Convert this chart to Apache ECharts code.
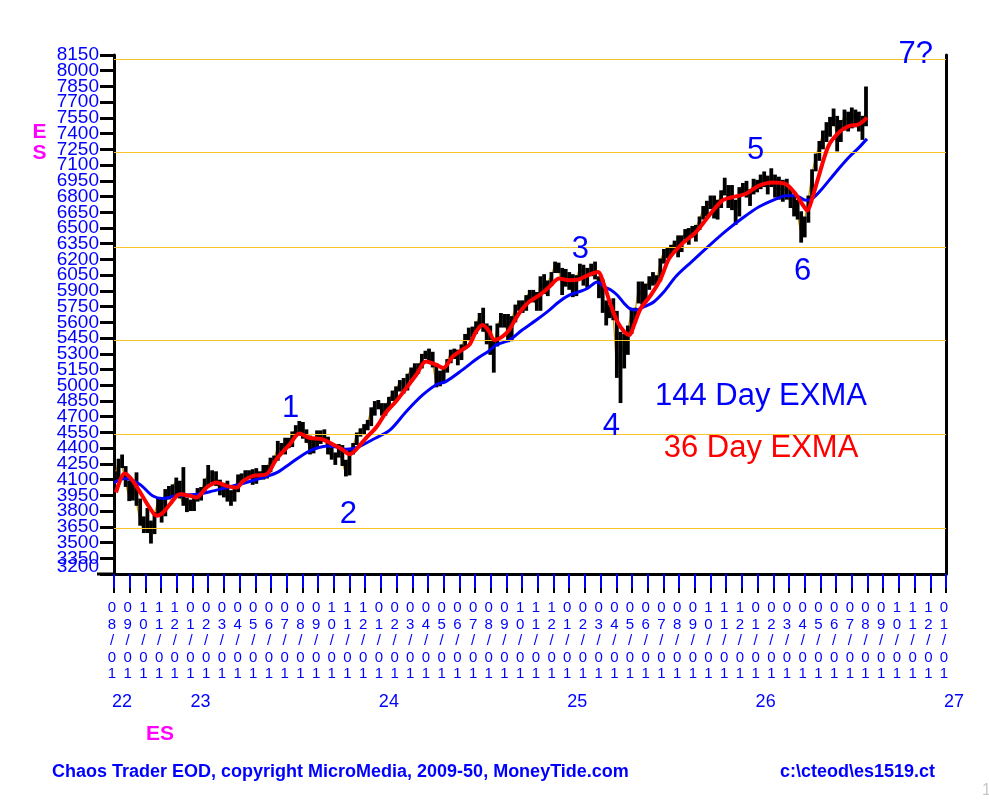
<!DOCTYPE html>
<html lang="en">
<head>
    <meta charset="UTF-8">
    <title>ES Chaos Trader EOD</title>
    <style>
        html, body { margin: 0; padding: 0; background: #fff; }
        #main { width: 989px; height: 805px; }
    </style>
    <script src="https://cdn.jsdelivr.net/npm/echarts/dist/echarts.min.js"></script>
</head>
<body>
<div id="main"></div>
<script>
    // weekly bars, first bar is the week of 2022-08-01 (plotted mid-week)
    const firstWeek = '2022-08-03'
    const weekHigh = [
        4170, 4290, 4330, 4220, 4080, 4075, 4160, 3910, 3740, 3820, 3700, 3780, 3920, 3920, 4000, 4030, 4045, 4110, 4080, 4210,
        3920, 3900, 3930, 4010, 4020, 4100, 4230, 4180, 4170, 4090, 4060, 4080, 3990, 4020, 4140, 4150, 4180, 4180, 4190, 4200,
        4170, 4230, 4230, 4300, 4320, 4460, 4440, 4490, 4490, 4550, 4610, 4650, 4640, 4570, 4510, 4470, 4560, 4560, 4570, 4500,
        4400, 4350, 4430, 4420, 4280, 4380, 4440, 4540, 4580, 4620, 4660, 4780, 4840, 4850, 4820, 4820, 4880, 4940, 4980, 5040,
        5060, 5100, 5160, 5200, 5200, 5290, 5320, 5340, 5310, 5200, 5130, 5150, 5240, 5330, 5340, 5330, 5380, 5480, 5540, 5550,
        5600, 5680, 5730, 5580, 5560, 5420, 5580, 5680, 5670, 5670, 5650, 5760, 5800, 5800, 5850, 5900, 5900, 5880, 6030, 6050,
        5990, 6070, 6170, 6160, 6110, 6100, 6070, 6050, 6040, 6150, 6140, 6110, 6150, 6170, 6030, 6000, 5800, 5760, 5820, 5700,
        5500, 5480, 5560, 5720, 5730, 5980, 5980, 5960, 6030, 6070, 6040, 6200, 6290, 6300, 6330, 6370, 6420, 6420, 6480, 6490,
        6510, 6520, 6600, 6700, 6750, 6800, 6800, 6760, 6850, 6970, 6900, 6900, 6760, 6880, 6920, 6940, 6860, 6960, 6950, 7000,
        7030, 6990, 7060, 7000, 6980, 6950, 6960, 6870, 6800, 6760, 6650, 6600, 6800, 7050, 7200, 7320, 7420, 7500, 7550, 7630,
        7560, 7520, 7620, 7600, 7640, 7620, 7600, 7560, 7840
    ]
    const weekLow = [
        4080, 4110, 4220, 4040, 3905, 3910, 3860, 3670, 3600, 3600, 3500, 3590, 3760, 3700, 3760, 3920, 3955, 3950, 3930, 3860,
        3800, 3810, 3810, 3900, 3910, 3980, 4060, 4080, 4050, 3960, 3940, 3900, 3860, 3900, 3990, 4080, 4090, 4120, 4060, 4070,
        4110, 4110, 4120, 4180, 4260, 4290, 4360, 4350, 4410, 4420, 4520, 4530, 4500, 4460, 4350, 4360, 4420, 4450, 4470, 4350,
        4300, 4250, 4320, 4240, 4140, 4150, 4350, 4440, 4520, 4540, 4580, 4620, 4720, 4780, 4720, 4720, 4780, 4860, 4850, 4950,
        4930, 4960, 5060, 5100, 5120, 5170, 5260, 5220, 5180, 4990, 5000, 5030, 5130, 5220, 5260, 5200, 5250, 5360, 5440, 5470,
        5500, 5560, 5520, 5400, 5300, 5130, 5380, 5560, 5560, 5420, 5430, 5610, 5720, 5700, 5720, 5820, 5800, 5720, 5720, 5880,
        5860, 5960, 6080, 6080, 5870, 5950, 5920, 5850, 5860, 6030, 5960, 5940, 6050, 6020, 5840, 5700, 5580, 5650, 5630, 5080,
        4840, 5170, 5300, 5500, 5610, 5790, 5780, 5800, 5920, 5960, 5970, 6000, 6170, 6220, 6240, 6300, 6230, 6280, 6400, 6350,
        6420, 6380, 6490, 6590, 6620, 6690, 6600, 6590, 6700, 6820, 6700, 6680, 6540, 6620, 6820, 6800, 6720, 6830, 6850, 6880,
        6900, 6830, 6900, 6800, 6780, 6760, 6780, 6700, 6620, 6590, 6370, 6420, 6560, 6780, 7050, 7150, 7260, 7330, 7380, 7480,
        7240, 7330, 7440, 7430, 7460, 7470, 7430, 7350, 7480
    ]
    const weekClose = [
        4140, 4280, 4230, 4060, 3925, 4070, 3875, 3700, 3600, 3650, 3600, 3770, 3910, 3780, 3995, 3975, 4040, 4080, 3940, 3870,
        3870, 3860, 3910, 4000, 3990, 4090, 4150, 4100, 4090, 3980, 4050, 3900, 3950, 4000, 4130, 4130, 4160, 4150, 4180, 4150,
        4140, 4210, 4220, 4290, 4300, 4420, 4380, 4480, 4430, 4540, 4580, 4610, 4520, 4490, 4390, 4420, 4540, 4480, 4490, 4360,
        4320, 4330, 4370, 4250, 4150, 4370, 4430, 4530, 4570, 4610, 4650, 4770, 4800, 4820, 4730, 4800, 4870, 4920, 4970, 5030,
        5010, 5100, 5150, 5160, 5170, 5280, 5310, 5260, 5200, 5000, 5110, 5140, 5230, 5320, 5300, 5280, 5370, 5460, 5500, 5500,
        5590, 5660, 5530, 5480, 5360, 5370, 5570, 5650, 5660, 5430, 5640, 5730, 5780, 5780, 5840, 5890, 5840, 5740, 6010, 5900,
        5980, 6060, 6150, 6090, 5960, 6040, 5980, 5860, 6030, 6120, 6050, 6050, 6140, 6030, 5980, 5780, 5660, 5690, 5650, 5100,
        5400, 5300, 5540, 5700, 5690, 5960, 5820, 5930, 6010, 5990, 5990, 6190, 6280, 6270, 6320, 6360, 6270, 6400, 6460, 6470,
        6490, 6500, 6590, 6680, 6700, 6760, 6620, 6720, 6840, 6880, 6750, 6750, 6620, 6870, 6900, 6850, 6830, 6940, 6880, 6980,
        6960, 6950, 6960, 6900, 6850, 6900, 6820, 6740, 6650, 6620, 6430, 6580, 6780, 7030, 7180, 7300, 7400, 7450, 7520, 7560,
        7350, 7480, 7580, 7500, 7600, 7520, 7480, 7500, 7630
    ]

    // 36 day exponential average (red)
    const ema36 = [
        ['2022-08-05', 3977], ['2022-08-22', 4158], ['2022-09-07', 4088], ['2022-09-27', 3930], ['2022-10-09', 3835],
        ['2022-10-23', 3756], ['2022-11-05', 3787], ['2022-11-18', 3866], ['2022-12-07', 3961], ['2022-12-27', 3946],
        ['2023-01-09', 3930], ['2023-01-29', 4025], ['2023-02-16', 4072], ['2023-03-06', 4041], ['2023-03-26', 4025],
        ['2023-04-08', 4088], ['2023-04-27', 4136], ['2023-05-23', 4151], ['2023-06-11', 4293], ['2023-07-07', 4436],
        ['2023-07-26', 4540], ['2023-08-15', 4499], ['2023-09-10', 4483], ['2023-09-29', 4436], ['2023-10-18', 4388],
        ['2023-11-01', 4341], ['2023-11-14', 4388], ['2023-12-03', 4499], ['2023-12-23', 4600], ['2024-01-11', 4740],
        ['2024-01-31', 4847], ['2024-02-19', 4974], ['2024-03-09', 5100], ['2024-03-28', 5227], ['2024-04-17', 5195],
        ['2024-04-30', 5164], ['2024-05-19', 5275], ['2024-06-07', 5340], ['2024-06-20', 5385], ['2024-07-03', 5512],
        ['2024-07-16', 5575], ['2024-07-29', 5512], ['2024-08-08', 5432], ['2024-08-24', 5464], ['2024-09-06', 5527],
        ['2024-09-19', 5638], ['2024-10-02', 5733], ['2024-10-15', 5797], ['2024-11-04', 5859], ['2024-11-23', 5939],
        ['2024-12-12', 6018], ['2025-01-01', 6002], ['2025-01-20', 6010], ['2025-02-06', 6049], ['2025-02-24', 6081],
        ['2025-03-08', 5954], ['2025-03-21', 5764], ['2025-04-03', 5607], ['2025-04-16', 5512], ['2025-04-26', 5480],
        ['2025-05-05', 5575], ['2025-05-18', 5733], ['2025-06-07', 5859], ['2025-06-26', 6018], ['2025-07-12', 6207],
        ['2025-08-07', 6350], ['2025-09-03', 6461], ['2025-09-28', 6618], ['2025-10-24', 6761], ['2025-11-12', 6793],
        ['2025-12-08', 6824], ['2026-01-03', 6903], ['2026-01-30', 6935], ['2026-02-23', 6919], ['2026-03-14', 6824],
        ['2026-03-27', 6729], ['2026-04-06', 6666], ['2026-04-15', 6777], ['2026-04-28', 6998], ['2026-05-17', 7283],
        ['2026-06-06', 7410], ['2026-06-25', 7472], ['2026-07-15', 7489], ['2026-07-31', 7552]
    ]

    // 144 day exponential average (blue)
    const ema144 = [
        ['2022-08-01', 4070], ['2022-08-22', 4110], ['2022-09-20', 4056], ['2022-10-15', 3946], ['2022-11-04', 3920],
        ['2022-12-01', 3946], ['2023-01-09', 3961], ['2023-02-04', 3985], ['2023-03-07', 4025], ['2023-04-07', 4063],
        ['2023-05-16', 4120], ['2023-06-12', 4167], ['2023-07-07', 4250], ['2023-08-15', 4373], ['2023-09-23', 4420],
        ['2023-10-26', 4390], ['2023-11-14', 4404], ['2023-12-16', 4483], ['2024-01-18', 4569], ['2024-02-19', 4750],
        ['2024-03-21', 4905], ['2024-04-17', 5005], ['2024-05-06', 5037], ['2024-06-07', 5147], ['2024-07-04', 5250],
        ['2024-07-29', 5330], ['2024-08-12', 5385], ['2024-09-07', 5432], ['2024-10-01', 5527], ['2024-10-29', 5622],
        ['2024-11-23', 5717], ['2024-12-12', 5797], ['2025-01-01', 5859], ['2025-01-20', 5891], ['2025-02-05', 5923],
        ['2025-02-23', 5986], ['2025-03-08', 5939], ['2025-03-22', 5907], ['2025-04-03', 5859], ['2025-04-16', 5780],
        ['2025-04-26', 5733], ['2025-05-09', 5717], ['2025-05-25', 5749], ['2025-06-13', 5797], ['2025-07-02', 5891],
        ['2025-07-26', 6040], ['2025-08-26', 6180], ['2025-09-28', 6330], ['2025-10-31', 6470], ['2025-12-01', 6590],
        ['2026-01-03', 6700], ['2026-02-06', 6777], ['2026-02-23', 6808], ['2026-03-15', 6808], ['2026-04-03', 6765],
        ['2026-04-15', 6777], ['2026-05-04', 6872], ['2026-05-31', 7030], ['2026-06-25', 7172], ['2026-07-15', 7267],
        ['2026-07-31', 7350]
    ]

    const gridLevels = [3636, 4534, 5426, 6318, 7220, 8112]
    const waveLabels = [
        ['1', '2023-07-09', 4822], ['2', '2023-10-30', 3816], ['3', '2025-01-23', 6340], ['4', '2025-03-22', 4651],
        ['5', '2025-12-28', 7289], ['6', '2026-03-28', 6131], ['7?', '2026-11-03', 8200]
    ]
    const yMin = 3200, yMax = 8150, yStep = 150
    const monthCount = 53   // 2022-08 .. 2027-01

    const font = '"Liberation Sans", Arial, sans-serif'
    const blue = '#0000ff'

    // months since 2022-08-01, fractional
    function mIdx(s) {
        const d = new Date(s + 'T00:00:00Z')
        const y = d.getUTCFullYear(), m = d.getUTCMonth()
        const dim = new Date(Date.UTC(y, m + 1, 0)).getUTCDate()
        return (y - 2022) * 12 + (m - 7) + (d.getUTCDate() - 1) / dim
    }

    const t0 = new Date(firstWeek + 'T00:00:00Z').getTime()
    const bars = weekHigh.map((h, k) => {
        const ds = new Date(t0 + k * 7 * 86400000).toISOString().slice(0, 10)
        return [mIdx(ds), h, weekLow[k], weekClose[k]]
    })

    function monthLabel(v) {
        const m = (7 + v) % 12 + 1
        const mm = (m < 10 ? '0' : '') + m
        return mm[0] + '\n' + mm[1] + '\n/\n0\n1'
    }

    function yearLabel(v) {
        if (v === 0) return '22'
        if ((7 + v) % 12 === 0) return String(22 + Math.floor((7 + v) / 12))
        return ''
    }

    const hiddenAxis = {
        axisLine: {show: false, onZero: false}, axisTick: {show: false}, splitLine: {show: false}
    }

    // extra left axis that prints only one value label (end labels get dropped otherwise)
    function oneLabelAxis(value, vAlign) {
        return Object.assign({
            type: 'value', min: yMin, max: yMax, interval: yStep, position: 'left',
            axisLabel: {
                color: blue, fontSize: 19, lineHeight: 14, fontFamily: font, margin: 15,
                verticalAlign: vAlign, showMinLabel: true, showMaxLabel: true, hideOverlap: false,
                formatter: v => v === value ? String(v) : ''
            }
        }, hiddenAxis)
    }

    document.addEventListener('DOMContentLoaded', () => {
        const chart = echarts.init(document.getElementById('main'))
        const option = {
            animation: false,
            backgroundColor: '#fff',
            grid: {left: 114, right: 43, top: 55, bottom: 231, containLabel: false},
            xAxis: [
                {
                    type: 'value', min: 0, max: monthCount, interval: 1, position: 'bottom', z: 1,
                    axisLine: {show: true, onZero: false, lineStyle: {color: '#000', width: 3}},
                    axisTick: {show: true, length: 19, lineStyle: {color: '#000', width: 2}},
                    axisLabel: {show: false}, splitLine: {show: false}
                },
                {
                    type: 'value', min: 0, max: monthCount, interval: 1, position: 'bottom', z: 3,
                    axisLine: {show: false, onZero: false},
                    axisTick: {show: true, length: 14, lineStyle: {color: blue, width: 2}},
                    axisLabel: {
                        formatter: monthLabel, color: blue, fontSize: 15, lineHeight: 16.5,
                        fontFamily: font, margin: 26, padding: [0, 4, 0, 0],
                        showMinLabel: true, showMaxLabel: true, hideOverlap: false
                    },
                    splitLine: {show: false}
                },
                Object.assign({
                    type: 'value', min: 0, max: monthCount, interval: 1, position: 'bottom',
                    axisLabel: {
                        formatter: yearLabel, color: blue, fontSize: 18, lineHeight: 18,
                        fontFamily: font, margin: 119, align: 'left', padding: [0, 0, 0, -2],
                        showMinLabel: true, showMaxLabel: true, hideOverlap: false
                    }
                }, hiddenAxis)
            ],
            yAxis: [
                {
                    type: 'value', min: yMin, max: yMax, interval: yStep, position: 'left',
                    axisLine: {show: true, onZero: false, lineStyle: {color: '#000', width: 3}},
                    axisTick: {show: true, length: 14, lineStyle: {color: '#000', width: 3}},
                    axisLabel: {
                        color: blue, fontSize: 19, lineHeight: 14, fontFamily: font, margin: 15,
                        showMinLabel: true, showMaxLabel: true, hideOverlap: false,
                        formatter: v => (v === yMin || v === yMax) ? '' : String(v)
                    },
                    splitLine: {show: false}
                },
                {
                    type: 'value', min: yMin, max: yMax, position: 'right',
                    axisLine: {show: true, onZero: false, lineStyle: {color: '#000', width: 3}},
                    axisTick: {show: false}, axisLabel: {show: false}, splitLine: {show: false}
                },
                // bottom label sits squeezed up against the axis, as in the original
                oneLabelAxis(yMin, 'bottom'),
                oneLabelAxis(yMax, 'middle')
            ],
            series: [
                {
                    name: 'close', type: 'line', xAxisIndex: 0, yAxisIndex: 0, z: 2,
                    data: bars.map(b => [b[0], b[3]]),
                    symbol: 'none', lineStyle: {color: '#c89600', width: 1.2},
                    markLine: {
                        silent: true, symbol: 'none', label: {show: false},
                        lineStyle: {color: '#f7c52a', width: 1, type: 'solid'},
                        data: gridLevels.map(v => ({yAxis: v}))
                    }
                },
                {
                    name: 'ES', type: 'custom', xAxisIndex: 0, yAxisIndex: 0, z: 3,
                    data: bars,
                    encode: {x: 0, y: [1, 2]},
                    renderItem: (params, api) => {
                        const hi = api.coord([api.value(0), api.value(1)])
                        const lo = api.coord([api.value(0), api.value(2)])
                        return {
                            type: 'line',
                            shape: {x1: hi[0], y1: hi[1] - 1, x2: lo[0], y2: lo[1] + 1},
                            style: {stroke: '#000', lineWidth: 3.8}
                        }
                    }
                },
                {
                    name: '144 Day EXMA', type: 'line', xAxisIndex: 0, yAxisIndex: 0, z: 4,
                    data: ema144.map(p => [mIdx(p[0]), p[1]]),
                    symbol: 'none', smooth: 0.3, lineStyle: {color: blue, width: 3}
                },
                {
                    name: '36 Day EXMA', type: 'line', xAxisIndex: 0, yAxisIndex: 0, z: 5,
                    data: ema36.map(p => [mIdx(p[0]), p[1]]),
                    symbol: 'none', smooth: 0.3, lineStyle: {color: '#ff0000', width: 4}
                },
                {
                    name: 'waves', type: 'scatter', xAxisIndex: 0, yAxisIndex: 0, z: 6, clip: false,
                    data: waveLabels.map(w => [mIdx(w[1]), w[2], w[0]]),
                    symbolSize: 0.5, itemStyle: {color: '#fff', opacity: 1},
                    emphasis: {disabled: true},
                    label: {
                        show: true, position: 'inside', offset: [0, 5], formatter: p => p.data[2],
                        color: blue, opacity: 1, textBorderWidth: 0, fontSize: 31, fontFamily: font
                    }
                }
            ],
            graphic: [
                {type: 'line', shape: {x1: 97, y1: 574, x2: 114, y2: 574}, style: {stroke: '#000', lineWidth: 3}},
                {type: 'text', x: 39.5, y: 132, style: {text: 'E', fill: '#ff00ff', font: 'bold 21px ' + font, align: 'center', verticalAlign: 'middle'}},
                {type: 'text', x: 39.5, y: 153, style: {text: 'S', fill: '#ff00ff', font: 'bold 21px ' + font, align: 'center', verticalAlign: 'middle'}},
                {type: 'text', x: 160, y: 734, style: {text: 'ES', fill: '#ff00ff', font: 'bold 21px ' + font, align: 'center', verticalAlign: 'middle'}},
                {type: 'text', x: 761, y: 396, style: {text: '144 Day EXMA', fill: blue, font: '31px ' + font, align: 'center', verticalAlign: 'middle'}},
                {type: 'text', x: 761, y: 448, style: {text: '36 Day EXMA', fill: '#ff0000', font: '31px ' + font, align: 'center', verticalAlign: 'middle'}},
                {type: 'text', x: 52, y: 772, style: {text: 'Chaos Trader EOD, copyright MicroMedia, 2009-50, MoneyTide.com', fill: blue, font: 'bold 18px ' + font, align: 'left', verticalAlign: 'middle'}},
                {type: 'text', x: 780, y: 772, style: {text: 'c:\\cteod\\es1519.ct', fill: blue, font: 'bold 18px ' + font, align: 'left', verticalAlign: 'middle'}},
                {type: 'text', x: 982, y: 791, style: {text: '1', fill: '#c8c8c8', font: '16px ' + font, align: 'left', verticalAlign: 'middle'}}
            ]
        }
        chart.setOption(option)
    })
</script>
</body>
</html>
